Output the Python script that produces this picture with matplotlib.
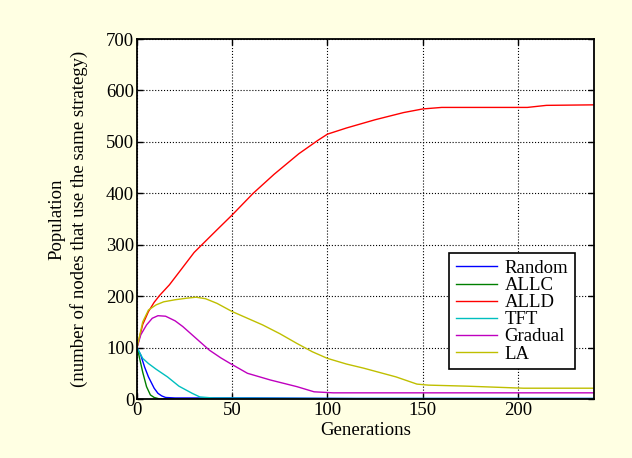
import matplotlib.pyplot as plt

plt.rcParams['font.family'] = ['Liberation Serif', 'DejaVu Serif']

# Strategy populations (generation, nodes)
random_gen = [0, 2, 4, 6, 9, 11, 13, 15, 20, 60, 115, 240]
random_pop = [100, 85, 62, 43, 21, 11, 6, 3, 2, 2, 1, 1]

allc_gen = [0, 1, 3, 5, 7, 9, 12, 240]
allc_pop = [100, 85, 52, 24, 8, 3, 0, 0]

alld_gen = [0, 3, 6, 9, 12, 17, 23, 30, 42, 50, 61, 72, 85, 95, 100, 110, 125, 140, 150, 160, 180, 205, 215, 240]
alld_pop = [100, 145, 170, 188, 202, 222, 251, 285, 329, 358, 400, 437, 477, 503, 515, 527, 543, 557, 564, 567, 567, 567, 571, 572]

tft_gen = [0, 3, 6, 10, 16, 22, 29, 33, 40, 100, 240]
tft_pop = [100, 79, 69, 58, 43, 25, 11, 4, 2, 1, 1]

gradual_gen = [0, 2, 5, 8, 11, 15, 20, 24, 31, 38, 44, 49, 58, 70, 84, 93, 103, 240]
gradual_pop = [100, 125, 144, 157, 162, 161, 152, 141, 118, 95, 80, 69, 50, 37, 24, 14, 12, 12]

la_gen = [0, 3, 6, 10, 14, 20, 26, 31, 36, 42, 50, 58, 66, 75, 84, 92, 100, 110, 119, 128, 136, 147, 153, 173, 203, 240]
la_pop = [100, 150, 173, 183, 189, 193, 196, 198, 195, 186, 170, 157, 144, 127, 108, 92, 79, 68, 60, 51, 43, 29, 27, 25, 21, 21]

series = [
    ('Random', random_gen, random_pop, '#0000ff'),
    ('ALLC', allc_gen, allc_pop, '#007f00'),
    ('ALLD', alld_gen, alld_pop, '#ff0000'),
    ('TFT', tft_gen, tft_pop, '#00bfbf'),
    ('Gradual', gradual_gen, gradual_pop, '#bf00bf'),
    ('LA', la_gen, la_pop, '#bfbf00'),
]

fig = plt.figure(figsize=(6.32, 4.58), dpi=100, facecolor='#ffffe3')
ax = fig.add_axes([0.2168, 0.1288, 0.7231, 0.786])
ax.set_facecolor('white')

for name, g, p, c in series:
    ax.plot(g, p, color=c, linewidth=1.0, label=name)

ax.set_xlim(0, 240)
ax.set_ylim(0, 700)
ax.set_xticks([0, 50, 100, 150, 200])
ax.set_yticks(range(0, 701, 100))
ax.grid(True, color='black', linestyle=':', linewidth=0.8)
ax.tick_params(direction='in', top=True, right=True, labelsize=13.5, length=4, width=1, pad=2)
for s in ax.spines.values():
    s.set_linewidth(1.3)

ax.set_xlabel('Generations', fontsize=13.5, labelpad=2)
ax.set_ylabel('Population\n(number of nodes that use the same strategy)', fontsize=13.5,
              labelpad=13, linespacing=1.35)

leg = ax.legend(loc='lower right', bbox_to_anchor=(0.958, 0.083), fontsize=13.5,
                frameon=True, fancybox=False, framealpha=1, edgecolor='black',
                handlelength=2.2, handletextpad=0.4, labelspacing=0.0, borderpad=0.35,
                borderaxespad=0)
leg.get_frame().set_linewidth(1.2)

fig.savefig('out.png', dpi=100, facecolor=fig.get_facecolor())
